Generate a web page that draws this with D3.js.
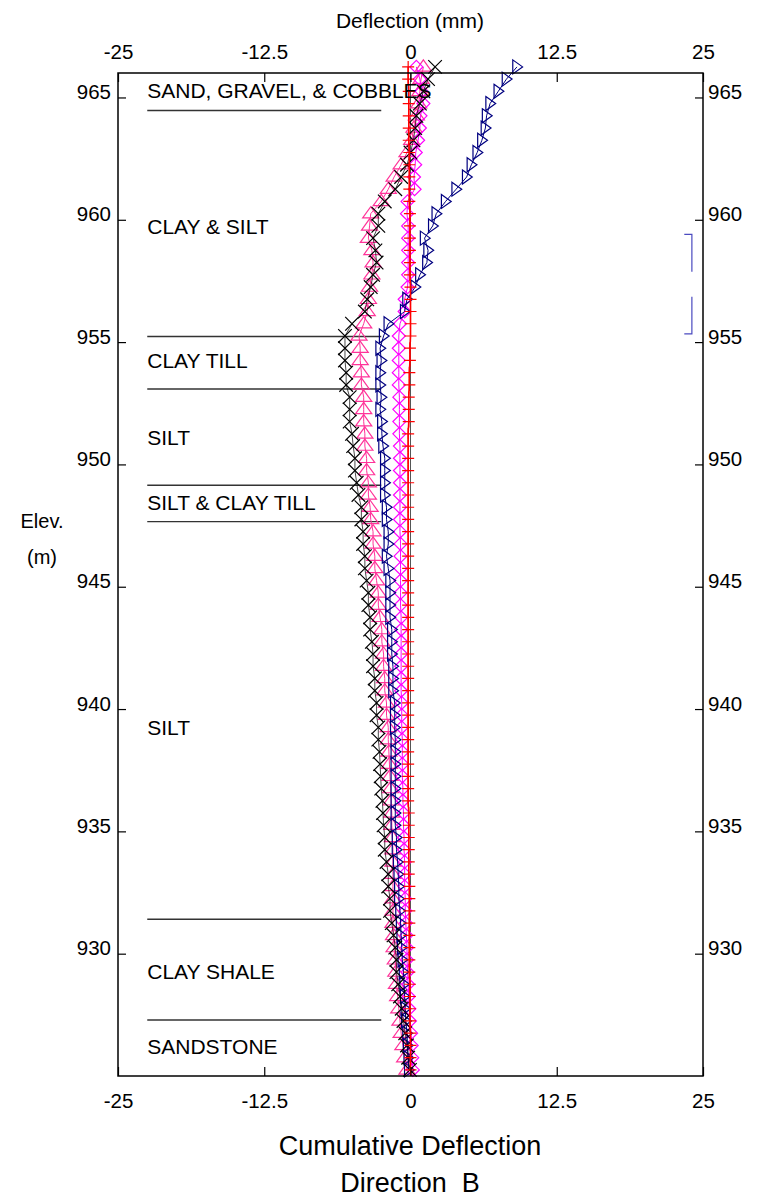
<!DOCTYPE html>
<html>
<head>
<meta charset="utf-8">
<script src="https://cdn.jsdelivr.net/npm/d3@7"></script>
<style>
  html, body { margin: 0; padding: 0; background: #fff; }
  svg { display: block; font-family: "Liberation Sans", Arial, sans-serif; }
</style>
</head>
<body>
<svg id="chart" width="762" height="1198"></svg>
<script>
// ---------------- DATA ----------------
const elevations = [
  966.25, 965.75, 965.25, 964.75, 964.25, 963.75, 963.25, 962.75, 962.25, 961.75,
  961.25, 960.75, 960.25, 959.75, 959.25, 958.75, 958.25, 957.75, 957.25, 956.75,
  956.25, 955.75, 955.25, 954.75, 954.25, 953.75, 953.25, 952.75, 952.25, 951.75,
  951.25, 950.75, 950.25, 949.75, 949.25, 948.75, 948.25, 947.75, 947.25, 946.75,
  946.25, 945.75, 945.25, 944.75, 944.25, 943.75, 943.25, 942.75, 942.25, 941.75,
  941.25, 940.75, 940.25, 939.75, 939.25, 938.75, 938.25, 937.75, 937.25, 936.75,
  936.25, 935.75, 935.25, 934.75, 934.25, 933.75, 933.25, 932.75, 932.25, 931.75,
  931.25, 930.75, 930.25, 929.75, 929.25, 928.75, 928.25, 927.75, 927.25, 926.75,
  926.25, 925.75, 925.25
];

const seriesRed = [
  -0.2, -0.2, -0.15, -0.15, -0.15, -0.15, -0.15, -0.1, -0.1, -0.1,
  -0.1, -0.1, -0.05, -0.05, -0.05, -0.05, -0.05, -0.05, 0.0, 0.0,
  0.0, 0.0, 0.0, -0.05, -0.05, -0.1, -0.1, -0.15, -0.15, -0.15,
  -0.2, -0.2, -0.2, -0.2, -0.2, -0.2, -0.2, -0.2, -0.2, -0.2,
  -0.2, -0.2, -0.2, -0.2, -0.2, -0.2, -0.2, -0.2, -0.2, -0.2,
  -0.2, -0.2, -0.2, -0.2, -0.2, -0.2, -0.2, -0.2, -0.2, -0.2,
  -0.2, -0.15, -0.15, -0.15, -0.15, -0.15, -0.15, -0.1, -0.1, -0.1,
  -0.1, -0.1, -0.1, -0.1, -0.1, -0.05, -0.05, -0.05, -0.05, 0.0,
  0.0, 0.0, 0.0
];

const seriesMagenta = [
  0.5, 0.8, 0.95, 1.1, 0.85, 0.8, 0.65, 0.45, 0.4, 0.3,
  0.35, -0.25, -0.3, -0.2, -0.2, -0.2, -0.2, -0.2, -0.25, -0.5,
  -0.5, -0.9, -1.0, -1.0, -1.0, -1.0, -1.0, -0.95, -0.95, -0.95,
  -0.95, -0.9, -0.9, -0.9, -0.9, -0.9, -0.9, -0.9, -0.9, -0.85,
  -0.85, -0.85, -0.85, -0.85, -0.85, -0.8, -0.8, -0.8, -0.8, -0.8,
  -0.8, -0.8, -0.75, -0.75, -0.75, -0.7, -0.7, -0.7, -0.7, -0.65,
  -0.65, -0.6, -0.6, -0.55, -0.55, -0.5, -0.5, -0.5, -0.45, -0.45,
  -0.4, -0.35, -0.3, -0.3, -0.25, -0.2, -0.15, -0.1, -0.05, 0.05,
  0.1, 0.15, 0.2
];

const seriesPink = [
  1.1, 0.9, 0.8, 0.7, 0.5, 0.3, 0.1, -0.3, -0.8, -1.4,
  -1.9, -2.5, -3.4, -3.5, -3.6, -3.3, -3.2, -3.3, -3.5, -3.6,
  -3.7, -4.0, -4.4, -4.3, -4.3, -4.2, -4.2, -4.0, -4.0, -4.0,
  -3.9, -3.9, -3.75, -3.75, -3.6, -3.6, -3.45, -3.4, -3.2, -3.2,
  -3.05, -3.05, -2.9, -2.75, -2.75, -2.6, -2.45, -2.45, -2.3, -2.3,
  -2.2, -2.2, -2.05, -2.05, -1.9, -1.9, -1.85, -1.8, -1.75, -1.7,
  -1.65, -1.6, -1.6, -1.55, -1.5, -1.5, -1.5, -1.5, -1.5, -1.5,
  -1.5, -1.45, -1.4, -1.3, -1.25, -1.2, -1.1, -1.0, -0.9, -0.8,
  -0.65, -0.5, -0.3
];

const seriesBlack = [
  2.1, 1.5, 1.1, 0.8, 0.5, 0.4, 0.25, 0.0, -0.3, -0.8,
  -1.3, -2.2, -2.75, -2.75, -3.2, -3.0, -2.9, -3.2, -3.4, -3.7,
  -3.9, -5.0, -5.6, -5.6, -5.6, -5.5, -5.5, -5.2, -5.2, -5.2,
  -5.0, -4.9, -4.75, -4.75, -4.6, -4.45, -4.2, -4.2, -4.05, -4.05,
  -3.9, -3.9, -3.75, -3.6, -3.6, -3.45, -3.45, -3.3, -3.2, -3.2,
  -3.05, -3.05, -2.9, -2.9, -2.75, -2.75, -2.65, -2.6, -2.55, -2.5,
  -2.4, -2.35, -2.3, -2.2, -2.2, -2.05, -1.9, -1.9, -1.75, -1.75,
  -1.6, -1.45, -1.3, -1.2, -1.2, -1.05, -0.9, -0.75, -0.6, -0.45,
  -0.3, -0.2, -0.05
];

const seriesNavy = [
  9.1, 8.2, 7.5, 6.8, 6.5, 6.4, 6.1, 5.7, 5.2, 4.8,
  3.9, 3.0, 2.2, 1.9, 1.2, 1.5, 1.4, 0.8, 0.4, -0.3,
  -0.5, -1.9, -2.3, -2.6, -2.5, -2.6, -2.6, -2.5, -2.6, -2.45,
  -2.45, -2.35, -2.2, -2.2, -2.2, -2.2, -2.05, -2.05, -1.9, -1.9,
  -2.05, -1.9, -1.75, -1.75, -1.75, -1.75, -1.6, -1.6, -1.6, -1.5,
  -1.5, -1.5, -1.35, -1.35, -1.35, -1.3, -1.3, -1.3, -1.3, -1.3,
  -1.3, -1.3, -1.3, -1.2, -1.2, -1.1, -1.05, -1.0, -1.0, -0.9,
  -0.85, -0.8, -0.75, -0.7, -0.6, -0.55, -0.5, -0.45, -0.4, -0.3,
  -0.25, -0.2, -0.15
];

// x-axis tick labels
const xTicks = [-25, -12.5, 0, 12.5, 25];
const xTickLabels = ["-25", "-12.5", "0", "12.5", "25"];
// y-axis tick labels
const yTicks = [965, 960, 955, 950, 945, 940, 935, 930];

// soil layer boundaries (elevation, m)
const layerBoundaries = [964.47, 955.23, 953.08, 949.15, 947.66, 931.41, 927.29];
const layerLineRange = [-22.5, -2.5];
// soil layer labels
const layerNames = ["SAND, GRAVEL, & COBBLES", "CLAY & SILT", "CLAY TILL", "SILT",
                    "SILT & CLAY TILL", "SILT", "CLAY SHALE", "SANDSTONE"];
const layerLabelElev = [964.98, 959.42, 953.94, 950.79, 948.13, 938.94, 928.96, 925.88];
const layerLabelX = -22.5;

// bracket marks on right side (x in mm, elevation ranges)
const bracketX = [23.4, 24.05];
const bracketTop = [959.4, 957.88];
const bracketBottom = [956.85, 955.34];

// ---------------- CHART ----------------
const svg = d3.select("#chart");
const mLeft = 118, mRight = 703, mTop = 73, mBottom = 1076;
const x = d3.scaleLinear().domain([-25, 25]).range([mLeft, mRight]);
const y = d3.scaleLinear().domain([925, 966]).range([mBottom, mTop]);

const fontSize = 20.5;

// zero line
svg.append("line")
  .attr("x1", x(0)).attr("x2", x(0))
  .attr("y1", y(966)).attr("y2", y(925))
  .attr("stroke", "#555").attr("stroke-width", 1);

// layer boundary lines
svg.append("g").selectAll("line").data(layerBoundaries).join("line")
  .attr("x1", x(layerLineRange[0])).attr("x2", x(layerLineRange[1]))
  .attr("y1", d => y(d)).attr("y2", d => y(d))
  .attr("stroke", "#333").attr("stroke-width", 1.4);

// marker shapes
const shapes = {
  plus: r => `M${-r},0H${r}M0,${-r}V${r}`,
  times: r => `M${-r},${-r}L${r},${r}M${-r},${r}L${r},${-r}`,
  diamond: r => `M0,${-r}L${r},0L0,${r}L${-r},0Z`,
  triUp: r => `M0,${-r}L${r * 1.15},${r * 0.6}L${-r * 1.15},${r * 0.6}Z`,
  triRight: r => `M${-r * 0.6},${-r}L${r * 0.8},0L${-r * 0.6},${r}Z`
};

const seriesDefs = [
  { values: seriesPink, color: "#ff3399", shape: "triUp", r: 7, lw: 1 },
  { values: seriesMagenta, color: "#ff00ff", shape: "diamond", r: 6.5, lw: 1 },
  { values: seriesNavy, color: "#000080", shape: "triRight", r: 7, lw: 1 },
  { values: seriesBlack, color: "#000000", shape: "times", r: 6.8, lw: 1 },
  { values: seriesRed, color: "#ff0000", shape: "plus", r: 6, lw: 1.5 }
];

const line = d3.line().x(d => x(d[0])).y(d => y(d[1]));

seriesDefs.forEach(s => {
  const pts = s.values.map((v, i) => [v, elevations[i]]);
  const g = svg.append("g");
  g.append("path").attr("d", line(pts))
    .attr("fill", "none").attr("stroke", s.color)
    .attr("stroke-width", s.lw)
    .attr("stroke-opacity", s.color === "#000000" ? 0.7 : 1);
  g.selectAll("path.m").data(pts).join("path")
    .attr("class", "m")
    .attr("transform", d => `translate(${x(d[0])},${y(d[1])})`)
    .attr("d", shapes[s.shape](s.r))
    .attr("fill", "none").attr("stroke", s.color).attr("stroke-width", 1.2);
});

// bracket marks
const bp = d3.path();
bp.moveTo(x(bracketX[0]), y(bracketTop[0]));
bp.lineTo(x(bracketX[1]), y(bracketTop[0]));
bp.lineTo(x(bracketX[1]), y(bracketTop[1]));
bp.moveTo(x(bracketX[1]), y(bracketBottom[0]));
bp.lineTo(x(bracketX[1]), y(bracketBottom[1]));
bp.lineTo(x(bracketX[0]), y(bracketBottom[1]));
svg.append("path").attr("d", bp.toString())
  .attr("fill", "none").attr("stroke", "#4a4ac0").attr("stroke-width", 1.2);

// layer labels
svg.append("g").selectAll("text").data(layerNames).join("text")
  .attr("x", x(layerLabelX))
  .attr("y", (d, i) => y(layerLabelElev[i]))
  .attr("font-size", 21).attr("fill", "#000")
  .text(d => d);

// frame
svg.append("rect")
  .attr("x", mLeft).attr("y", mTop)
  .attr("width", mRight - mLeft).attr("height", mBottom - mTop)
  .attr("fill", "none").attr("stroke", "#000").attr("stroke-width", 1.5);

// axes
function styleAxis(g) {
  g.select(".domain").remove();
  g.selectAll(".tick line").attr("stroke", "#000").attr("stroke-width", 1.2);
  g.selectAll(".tick text").attr("font-size", fontSize).attr("fill", "#000")
    .attr("font-family", "'Liberation Sans', Arial, sans-serif");
}

const fmt = d => xTickLabels[xTicks.indexOf(d)];

svg.append("g").attr("transform", `translate(0,${mTop})`)
  .call(d3.axisTop(x).tickValues(xTicks).tickFormat(fmt).tickSize(-9).tickPadding(14))
  .call(styleAxis);

svg.append("g").attr("transform", `translate(0,${mBottom})`)
  .call(d3.axisBottom(x).tickValues(xTicks).tickFormat(fmt).tickSize(-9).tickPadding(17))
  .call(styleAxis);

svg.append("g").attr("transform", `translate(${mLeft},0)`)
  .call(d3.axisLeft(y).tickValues(yTicks).tickFormat(d3.format("d")).tickSize(-8).tickPadding(7))
  .call(styleAxis)
  .call(g => g.selectAll(".tick text").attr("dy", "0.05em"));

svg.append("g").attr("transform", `translate(${mRight},0)`)
  .call(d3.axisRight(y).tickValues(yTicks).tickFormat(d3.format("d")).tickSize(-8).tickPadding(5))
  .call(styleAxis)
  .call(g => g.selectAll(".tick text").attr("dy", "0.05em"));

// titles
svg.append("text").attr("x", 410).attr("y", 27.5).attr("text-anchor", "middle")
  .attr("font-size", 21).text("Deflection (mm)");
svg.append("text").attr("x", 410).attr("y", 1154.5).attr("text-anchor", "middle")
  .attr("font-size", 27).text("Cumulative Deflection");
svg.append("text").attr("x", 410).attr("y", 1191.5).attr("text-anchor", "middle")
  .attr("font-size", 27).attr("xml:space", "preserve").text("Direction  B");
svg.append("text").attr("x", 42).attr("y", 528).attr("text-anchor", "middle")
  .attr("font-size", 20).text("Elev.");
svg.append("text").attr("x", 42).attr("y", 564).attr("text-anchor", "middle")
  .attr("font-size", 20).text("(m)");
</script>
</body>
</html>
